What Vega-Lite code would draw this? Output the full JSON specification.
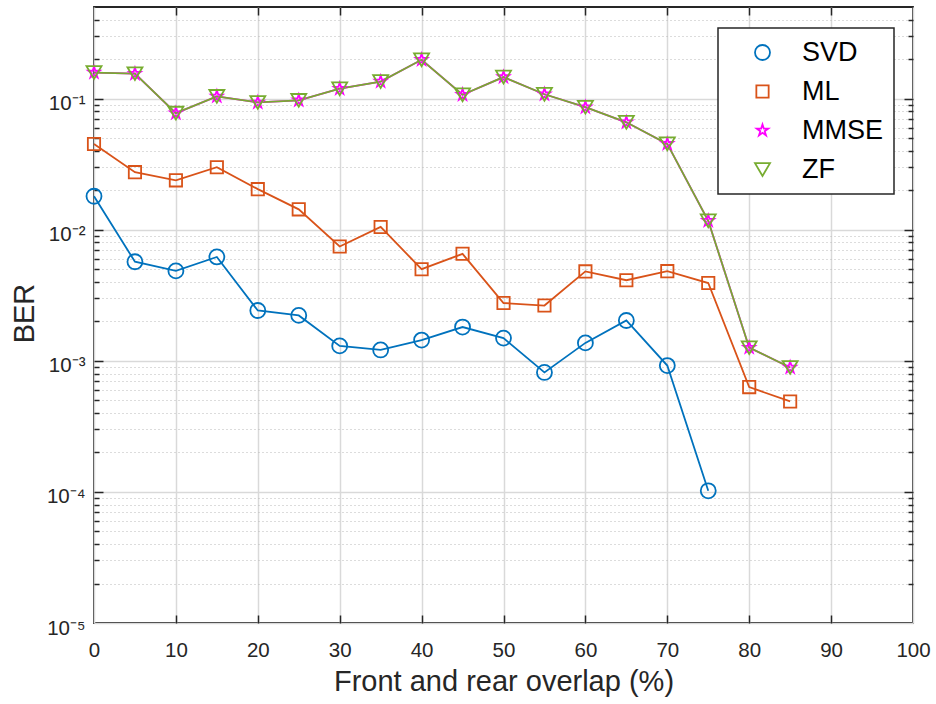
{
  "$schema": "https://vega.github.io/schema/vega-lite/v6.json",
  "width": 819,
  "height": 616,
  "autosize": {"type": "none"},
  "padding": {"left": 94, "top": 7, "right": 23, "bottom": 81},
  "background": "white",
  "data": {
    "values": [
      {"overlap": 0, "BER": 0.0180, "series": "SVD"},
      {"overlap": 5, "BER": 0.00570, "series": "SVD"},
      {"overlap": 10, "BER": 0.00485, "series": "SVD"},
      {"overlap": 15, "BER": 0.00620, "series": "SVD"},
      {"overlap": 20, "BER": 0.00242, "series": "SVD"},
      {"overlap": 25, "BER": 0.00222, "series": "SVD"},
      {"overlap": 30, "BER": 0.00130, "series": "SVD"},
      {"overlap": 35, "BER": 0.00121, "series": "SVD"},
      {"overlap": 40, "BER": 0.00144, "series": "SVD"},
      {"overlap": 45, "BER": 0.00181, "series": "SVD"},
      {"overlap": 50, "BER": 0.00149, "series": "SVD"},
      {"overlap": 55, "BER": 0.000815, "series": "SVD"},
      {"overlap": 60, "BER": 0.00137, "series": "SVD"},
      {"overlap": 65, "BER": 0.00203, "series": "SVD"},
      {"overlap": 70, "BER": 0.00092, "series": "SVD"},
      {"overlap": 75, "BER": 0.000102, "series": "SVD"},
      {"overlap": 0, "BER": 0.0451, "series": "ML"},
      {"overlap": 5, "BER": 0.0275, "series": "ML"},
      {"overlap": 10, "BER": 0.0238, "series": "ML"},
      {"overlap": 15, "BER": 0.0300, "series": "ML"},
      {"overlap": 20, "BER": 0.0204, "series": "ML"},
      {"overlap": 25, "BER": 0.0143, "series": "ML"},
      {"overlap": 30, "BER": 0.00745, "series": "ML"},
      {"overlap": 35, "BER": 0.0105, "series": "ML"},
      {"overlap": 40, "BER": 0.00500, "series": "ML"},
      {"overlap": 45, "BER": 0.00655, "series": "ML"},
      {"overlap": 50, "BER": 0.00276, "series": "ML"},
      {"overlap": 55, "BER": 0.00264, "series": "ML"},
      {"overlap": 60, "BER": 0.00481, "series": "ML"},
      {"overlap": 65, "BER": 0.00412, "series": "ML"},
      {"overlap": 70, "BER": 0.00483, "series": "ML"},
      {"overlap": 75, "BER": 0.00392, "series": "ML"},
      {"overlap": 80, "BER": 0.00063, "series": "ML"},
      {"overlap": 85, "BER": 0.00049, "series": "ML"},
      {"overlap": 0, "BER": 0.158, "series": "MMSE"},
      {"overlap": 5, "BER": 0.155, "series": "MMSE"},
      {"overlap": 10, "BER": 0.0775, "series": "MMSE"},
      {"overlap": 15, "BER": 0.104, "series": "MMSE"},
      {"overlap": 20, "BER": 0.0935, "series": "MMSE"},
      {"overlap": 25, "BER": 0.097, "series": "MMSE"},
      {"overlap": 30, "BER": 0.119, "series": "MMSE"},
      {"overlap": 35, "BER": 0.135, "series": "MMSE"},
      {"overlap": 40, "BER": 0.198, "series": "MMSE"},
      {"overlap": 45, "BER": 0.107, "series": "MMSE"},
      {"overlap": 50, "BER": 0.146, "series": "MMSE"},
      {"overlap": 55, "BER": 0.108, "series": "MMSE"},
      {"overlap": 60, "BER": 0.086, "series": "MMSE"},
      {"overlap": 65, "BER": 0.066, "series": "MMSE"},
      {"overlap": 70, "BER": 0.0452, "series": "MMSE"},
      {"overlap": 75, "BER": 0.0117, "series": "MMSE"},
      {"overlap": 80, "BER": 0.00126, "series": "MMSE"},
      {"overlap": 85, "BER": 0.00089, "series": "MMSE"},
      {"overlap": 0, "BER": 0.158, "series": "ZF"},
      {"overlap": 5, "BER": 0.155, "series": "ZF"},
      {"overlap": 10, "BER": 0.0775, "series": "ZF"},
      {"overlap": 15, "BER": 0.104, "series": "ZF"},
      {"overlap": 20, "BER": 0.0935, "series": "ZF"},
      {"overlap": 25, "BER": 0.097, "series": "ZF"},
      {"overlap": 30, "BER": 0.119, "series": "ZF"},
      {"overlap": 35, "BER": 0.135, "series": "ZF"},
      {"overlap": 40, "BER": 0.198, "series": "ZF"},
      {"overlap": 45, "BER": 0.107, "series": "ZF"},
      {"overlap": 50, "BER": 0.146, "series": "ZF"},
      {"overlap": 55, "BER": 0.108, "series": "ZF"},
      {"overlap": 60, "BER": 0.086, "series": "ZF"},
      {"overlap": 65, "BER": 0.066, "series": "ZF"},
      {"overlap": 70, "BER": 0.0452, "series": "ZF"},
      {"overlap": 75, "BER": 0.0117, "series": "ZF"},
      {"overlap": 80, "BER": 0.00126, "series": "ZF"},
      {"overlap": 85, "BER": 0.00089, "series": "ZF"}
    ]
  },
  "config": {
    "view": {"stroke": "#262626", "strokeWidth": 1.8},
    "font": "Liberation Sans",
    "axis": {
      "labelFont": "Liberation Sans",
      "labelFontSize": 20.5,
      "labelColor": "#262626",
      "titleFont": "Liberation Sans",
      "titleFontSize": 29,
      "titleFontWeight": "normal",
      "titleColor": "#262626",
      "tickColor": "#262626",
      "tickWidth": 1.5,
      "domain": false,
      "gridColor": "#d9d9d9",
      "gridWidth": 1.5,
      "labelOverlap": false,
      "labelFlush": false
    },
    "legend": {
      "orient": "none", "legendX": 624, "legendY": 21,
      "title": null,
      "fillColor": "white", "strokeColor": "#262626", "strokeWidth": 1.5,
      "padding": 11, "rowPadding": 11,
      "labelFont": "Liberation Sans", "labelFontSize": 27, "labelColor": "black", "labelLimit": 0,
      "symbolSize": 225, "symbolStrokeWidth": 1.8, "symbolOffset": 20, "labelOffset": 26
    }
  },
  "resolve": {"axis": {"x": "independent", "y": "independent"}},
  "layer": [
    {
      "mark": {"type": "line"},
      "encoding": {
        "x": {
          "field": "overlap", "type": "quantitative",
          "scale": {"domain": [0, 100], "nice": false, "zero": false},
          "axis": {
            "orient": "bottom",
            "values": [0, 10, 20, 30, 40, 50, 60, 70, 80, 90, 100],
            "grid": true, "ticks": false,
            "labelBaseline": "alphabetic", "labelPadding": 33,
            "title": "Front and rear overlap (%)",
            "titleX": 409.5, "titleY": 67, "titleBaseline": "alphabetic", "titleAlign": "center"
          }
        },
        "y": {
          "field": "BER", "type": "quantitative",
          "scale": {"type": "log", "domain": [0.00001, 0.5], "nice": false},
          "axis": {
            "orient": "left",
            "values": [0.00001, 0.0001, 0.001, 0.01, 0.1],
            "grid": true, "ticks": false,
            "labelExpr": "datum.value < 0.00002 ? '10⁻⁵' : datum.value < 0.0002 ? '10⁻⁴' : datum.value < 0.002 ? '10⁻³' : datum.value < 0.02 ? '10⁻²' : '10⁻¹'",
            "labelAlign": "right", "labelBaseline": "alphabetic", "labelOffset": 11, "labelPadding": 9,
            "title": "BER",
            "titleX": -61, "titleY": 306, "titleBaseline": "alphabetic", "titleAlign": "center", "titleAngle": -90
          }
        },
        "color": {
          "field": "series", "type": "nominal",
          "scale": {"domain": ["SVD", "ML", "MMSE", "ZF"], "range": ["#0072BD", "#D95319", "#FF00FF", "#77AC30"]}
        },
        "strokeWidth": {
          "field": "series", "type": "nominal",
          "scale": {"domain": ["SVD", "ML", "MMSE", "ZF"], "range": [1.8, 1.8, 0.8, 1.8]},
          "legend": null
        }
      }
    },
    {
      "mark": {"type": "point", "filled": false, "strokeWidth": 1.8, "size": 225, "opacity": 1},
      "encoding": {
        "x": {
          "field": "overlap", "type": "quantitative",
          "scale": {"domain": [0, 100], "nice": false, "zero": false},
          "axis": {
            "orient": "bottom",
            "values": [10, 20, 30, 40, 50, 60, 70, 80, 90],
            "grid": false, "ticks": true, "tickSize": -8, "labels": false, "title": null
          }
        },
        "y": {
          "field": "BER", "type": "quantitative",
          "scale": {"type": "log", "domain": [0.00001, 0.5], "nice": false},
          "axis": {
            "orient": "left",
            "values": [0.00002, 0.00003, 0.00004, 0.00005, 0.00006, 0.00007, 0.00008, 0.00009,
                       0.0002, 0.0003, 0.0004, 0.0005, 0.0006, 0.0007, 0.0008, 0.0009,
                       0.002, 0.003, 0.004, 0.005, 0.006, 0.007, 0.008, 0.009,
                       0.02, 0.03, 0.04, 0.05, 0.06, 0.07, 0.08, 0.09,
                       0.2, 0.3, 0.4],
            "grid": true, "gridDash": [1, 3], "gridColor": "#b8b8b8", "gridWidth": 1,
            "ticks": true, "tickSize": -5, "labels": false, "title": null
          }
        },
        "color": {
          "field": "series", "type": "nominal",
          "scale": {"domain": ["SVD", "ML", "MMSE", "ZF"], "range": ["#0072BD", "#D95319", "#FF00FF", "#77AC30"]},
          "legend": {
            "encode": {
              "symbols": {
                "shape": {"value": {"expr": "datum.value === 'SVD' ? 'M-4.2,0H4.2M1.05,0L0.97,0.4L0.74,0.74L0.4,0.97L0,1.05L-0.4,0.97L-0.74,0.74L-0.97,0.4L-1.05,0L-0.97,-0.4L-0.74,-0.74L-0.4,-0.97L0,-1.05L0.4,-0.97L0.74,-0.74L0.97,-0.4Z' : datum.value === 'ML' ? 'M-4.2,0H4.2M-0.87,-0.87H0.87V0.87H-0.87Z' : datum.value === 'MMSE' ? 'M-4.2,0H4.2M0,-0.95L0.213,-0.294L0.903,-0.294L0.345,0.112L0.559,0.769L0,0.363L-0.559,0.769L-0.345,0.112L-0.903,-0.294L-0.213,-0.294Z' : 'M-4.2,0H4.2M-1,-0.8L1,-0.8L0,0.95Z'"}}
              }
            }
          }
        },
        "shape": {
          "field": "series", "type": "nominal",
          "scale": {"domain": ["SVD", "ML", "MMSE", "ZF"], "range": ["circle", "M-0.82,-0.82H0.82V0.82H-0.82Z", "M0,-0.8L0.18,-0.247L0.761,-0.247L0.291,0.095L0.47,0.647L0,0.306L-0.47,0.647L-0.291,0.095L-0.761,-0.247L-0.18,-0.247Z", "M-1,-0.85L1,-0.85L0,0.85Z"]},
          "legend": {
            "encode": {
              "symbols": {
                "shape": {"value": {"expr": "datum.value === 'SVD' ? 'M-4.2,0H4.2M1.05,0L0.97,0.4L0.74,0.74L0.4,0.97L0,1.05L-0.4,0.97L-0.74,0.74L-0.97,0.4L-1.05,0L-0.97,-0.4L-0.74,-0.74L-0.4,-0.97L0,-1.05L0.4,-0.97L0.74,-0.74L0.97,-0.4Z' : datum.value === 'ML' ? 'M-4.2,0H4.2M-0.87,-0.87H0.87V0.87H-0.87Z' : datum.value === 'MMSE' ? 'M-4.2,0H4.2M0,-0.95L0.213,-0.294L0.903,-0.294L0.345,0.112L0.559,0.769L0,0.363L-0.559,0.769L-0.345,0.112L-0.903,-0.294L-0.213,-0.294Z' : 'M-4.2,0H4.2M-1,-0.8L1,-0.8L0,0.95Z'"}}
              }
            }
          }
        }
      }
    },
    {
      "mark": {"type": "point", "opacity": 0},
      "encoding": {
        "x": {
          "field": "overlap", "type": "quantitative",
          "scale": {"domain": [0, 100], "nice": false, "zero": false},
          "axis": {
            "orient": "top",
            "values": [10, 20, 30, 40, 50, 60, 70, 80, 90],
            "grid": false, "ticks": true, "tickSize": -8, "labels": false, "title": null
          }
        },
        "y": {
          "field": "BER", "type": "quantitative",
          "scale": {"type": "log", "domain": [0.00001, 0.5], "nice": false},
          "axis": {
            "orient": "right",
            "values": [0.0001, 0.001, 0.01, 0.1],
            "grid": false, "ticks": true, "tickSize": -9, "labels": false, "title": null
          }
        }
      }
    },
    {
      "mark": {"type": "point", "opacity": 0},
      "encoding": {
        "x": {
          "field": "overlap", "type": "quantitative",
          "scale": {"domain": [0, 100], "nice": false, "zero": false},
          "axis": null
        },
        "y": {
          "field": "BER", "type": "quantitative",
          "scale": {"type": "log", "domain": [0.00001, 0.5], "nice": false},
          "axis": {
            "orient": "left",
            "values": [0.0001, 0.001, 0.01, 0.1],
            "grid": false, "ticks": true, "tickSize": -9, "labels": false, "title": null
          }
        }
      }
    },
    {
      "mark": {"type": "point", "opacity": 0},
      "encoding": {
        "x": {
          "field": "overlap", "type": "quantitative",
          "scale": {"domain": [0, 100], "nice": false, "zero": false},
          "axis": null
        },
        "y": {
          "field": "BER", "type": "quantitative",
          "scale": {"type": "log", "domain": [0.00001, 0.5], "nice": false},
          "axis": {
            "orient": "right",
            "values": [0.00002, 0.00003, 0.00004, 0.00005, 0.00006, 0.00007, 0.00008, 0.00009,
                       0.0002, 0.0003, 0.0004, 0.0005, 0.0006, 0.0007, 0.0008, 0.0009,
                       0.002, 0.003, 0.004, 0.005, 0.006, 0.007, 0.008, 0.009,
                       0.02, 0.03, 0.04, 0.05, 0.06, 0.07, 0.08, 0.09,
                       0.2, 0.3, 0.4],
            "grid": false, "ticks": true, "tickSize": -5, "labels": false, "title": null
          }
        }
      }
    }
  ]
}
